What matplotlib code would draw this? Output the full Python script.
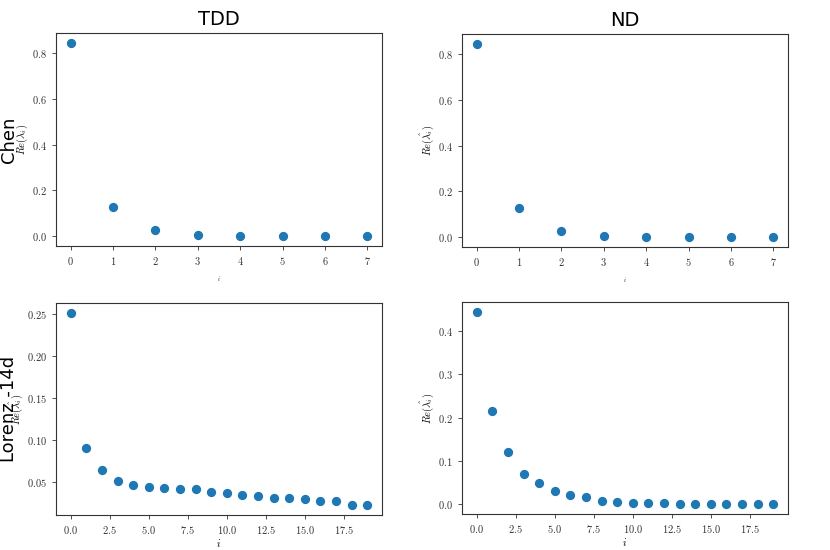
import numpy as np
import matplotlib
matplotlib.use("Agg")
import matplotlib.pyplot as plt
from matplotlib.ticker import FuncFormatter

plt.rcParams['mathtext.fontset'] = 'cm'

chen_idx = list(range(8))
chen_tdd = [0.844, 0.126, 0.026, 0.004, 0.0, 0.0, 0.0, 0.0]
chen_nd = [0.844, 0.126, 0.026, 0.004, 0.0, 0.0, 0.0, 0.0]

lorenz_idx = list(range(20))
lorenz_tdd = [0.252, 0.090, 0.0645, 0.0512, 0.0456, 0.0432, 0.042, 0.0416, 0.0416, 0.038,
              0.0369, 0.0345, 0.0329, 0.0305, 0.0305, 0.0293, 0.0269, 0.0265, 0.0217, 0.0217]
lorenz_nd = [0.445, 0.216, 0.122, 0.070, 0.049, 0.030, 0.022, 0.0177, 0.0085, 0.0054,
             0.003, 0.003, 0.0023, 0.0008, 0.0008, 0.0003, 0.0003, 0.0003, 0.0003, 0.0003]

col_titles = ['TDD', 'ND']
row_titles = ['Chen', 'Lorenz -14d']

fig = plt.figure(figsize=(8.3, 5.5), dpi=100)
W, H = 830, 550
boxes = [[(56, 33, 382, 246), (462, 34, 788, 247)],
         [(56, 303, 382, 515), (462, 302, 788, 514)]]
data = [[(chen_idx, chen_tdd), (chen_idx, chen_nd)],
        [(lorenz_idx, lorenz_tdd), (lorenz_idx, lorenz_nd)]]
label_x = [[-0.081, -0.081], [-0.094, -0.081]]

for r in range(2):
    for c in range(2):
        x0, y0, x1, y1 = boxes[r][c]
        ax = fig.add_axes([x0 / W, 1 - y1 / H, (x1 - x0) / W, (y1 - y0) / H])
        xs, ys = data[r][c]
        ax.scatter(xs, ys, s=32, color='#1f77b4', zorder=3)
        ax.tick_params(labelsize=7.5, length=3, width=0.6, colors='#333333')
        for sp in ax.spines.values():
            sp.set_linewidth(0.8)
            sp.set_color('#333333')
        if r == 0:
            ax.set_yticks([0.0, 0.2, 0.4, 0.6, 0.8])
            ax.yaxis.set_major_formatter(FuncFormatter(lambda v, p: '$%.1f$' % v))
            ax.xaxis.set_major_formatter(FuncFormatter(lambda v, p: '$%d$' % v))
            ax.set_xlabel('$i$', fontsize=4, labelpad=5)
        else:
            ax.set_xticks([0, 2.5, 5, 7.5, 10, 12.5, 15, 17.5])
            ax.xaxis.set_major_formatter(FuncFormatter(lambda v, p: '$%.1f$' % v))
            if c == 0:
                ax.yaxis.set_major_formatter(FuncFormatter(lambda v, p: '$%.2f$' % v))
            else:
                ax.yaxis.set_major_formatter(FuncFormatter(lambda v, p: '$%.1f$' % v))
            ax.set_xlabel('$i$', fontsize=7.5, labelpad=1)
        ax.set_ylabel(r'$Re(\hat{\lambda_i})$', fontsize=7.5)
        ax.yaxis.set_label_coords(label_x[r][c], 0.5)
        if r == 0:
            ax.set_title(col_titles[c], fontsize=14, pad=6)
        if c == 0:
            ax.text(-0.145, 0.5, row_titles[r], transform=ax.transAxes, rotation=90,
                    ha='center', va='center', fontsize=13)

fig.savefig('out.png', dpi=100)
